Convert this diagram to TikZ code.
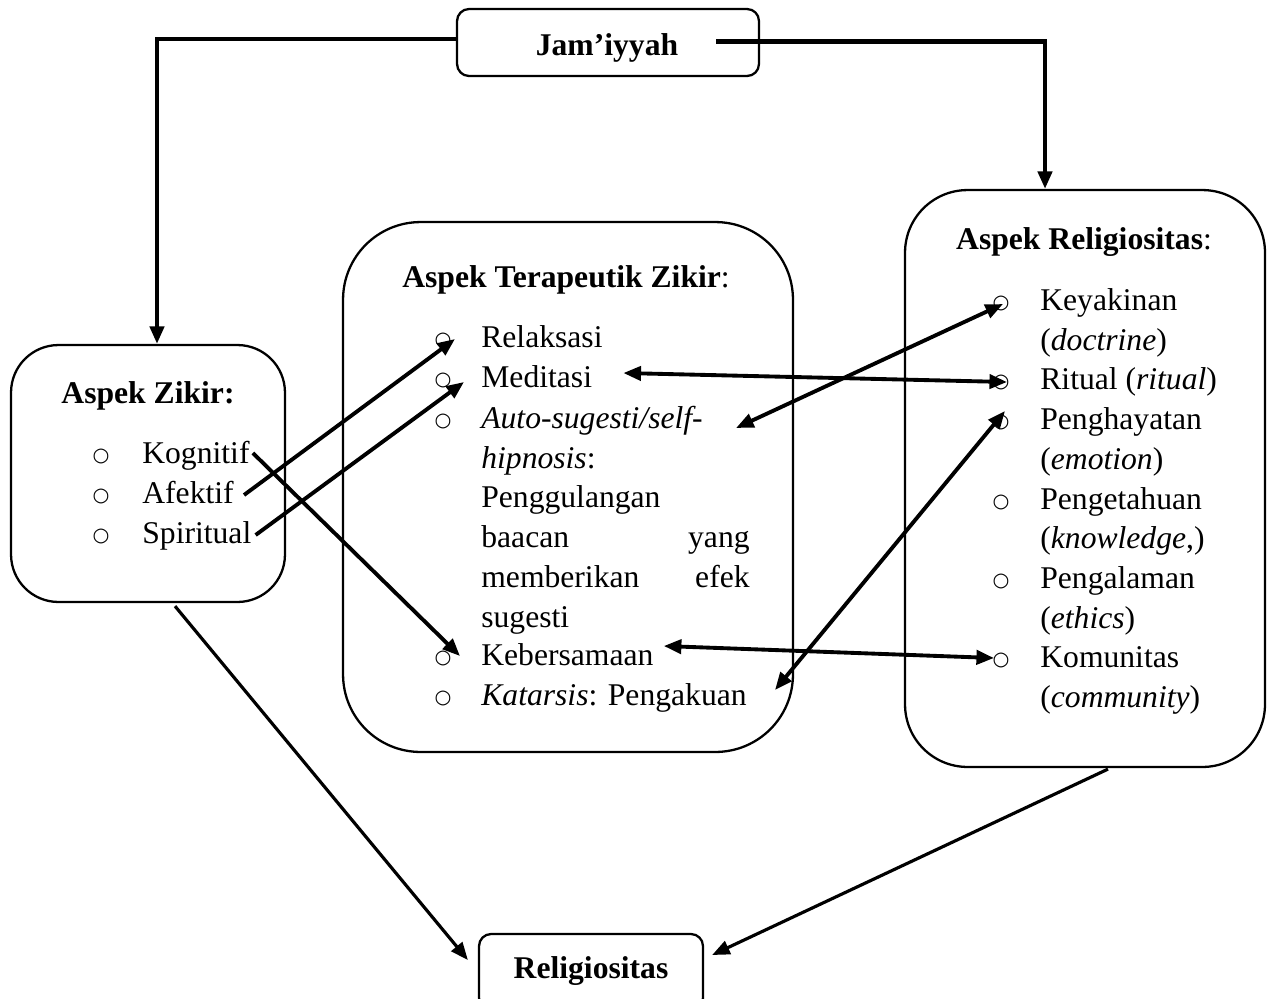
\documentclass[tikz,border=0pt]{standalone}
\usepackage{fontspec}
\setmainfont{Liberation Serif}
\newfontfamily\symfont{DejaVu Sans}
\usetikzlibrary{arrows.meta,calc}
\begin{document}
\begin{tikzpicture}[x=0.02cm,y=-0.02cm,
  font=\fontsize{18}{22}\selectfont,
  box/.style={draw,line width=1.3pt,inner sep=0pt},
  txt/.style={anchor=base west,inner sep=0pt},
  rtxt/.style={anchor=base east,inner sep=0pt},
  ttl/.style={anchor=base,inner sep=0pt,font=\fontsize{18}{22}\selectfont\bfseries},
  bul/.style={inner sep=0pt,font=\symfont\fontsize{11}{12}\selectfont},
  tip/.tip={Triangle[length=10pt,width=8pt]},
  conn/.style={line width=2.2pt,-tip},
  jconn/.style={line width=2.4pt,-tip},
  bconn/.style={line width=1.8pt,-tip},
  dconn/.style={line width=2.2pt,tip-tip},
]
\clip (0,0) rectangle (1273,998);
\fill[white] (0,0) rectangle (1273,998);

% boxes
\node[box,rounded corners=0.24cm,minimum width=6.04cm,minimum height=1.34cm] (jam) at (608,42.5) {};
\node[ttl] (jamt) at (607,55) {Jam’iyyah};
\node[box,rounded corners=0.95cm,minimum width=5.48cm,minimum height=5.14cm] (zikbox) at (148,473.5) {};
\node[box,rounded corners=1.55cm,minimum width=9cm,minimum height=10.6cm] (terbox) at (568,487) {};
\node[box,rounded corners=1.25cm,minimum width=7.2cm,minimum height=11.54cm] (relbox) at (1085,478.5) {};
\node[box,rounded corners=0.24cm,minimum width=4.48cm,minimum height=1.52cm] (relig) at (591,972) {};
\node[ttl] (religt) at (591,978) {Religiositas};

% Aspek Zikir
\node[ttl] (tz) at (148,403) {Aspek Zikir:};
\node[bul] (bkog) at (101,456) {○};
\node[txt] (kog) at (142,463) {Kognitif};
\node[bul] (bafe) at (101,496) {○};
\node[txt] (afe) at (142,503) {Afektif};
\node[bul] (bspi) at (101,536) {○};
\node[txt] (spi) at (142,543) {Spiritual};

% Aspek Terapeutik Zikir
\node[ttl] (tt) at (566,287) {Aspek Terapeutik Zikir\textmd{:}};
\node[bul] (brel) at (443,340) {○};
\node[txt] (rel) at (481,347) {Relaksasi};
\node[bul] (bmed) at (443,380) {○};
\node[txt] (med) at (481,387) {Meditasi};
\node[bul] (baut) at (443,421) {○};
\node[txt] (auto) at (481,428) {\textit{Auto-sugesti/self-}};
\node[txt] (hip) at (481,468) {\textit{hipnosis}:};
\node[txt] (pen) at (481,507) {Penggulangan};
\node[txt] (baa) at (481,547) {baacan};
\node[rtxt] (yan) at (750,547) {yang};
\node[txt] (mem) at (481,587) {memberikan};
\node[rtxt] (efe) at (750,587) {efek};
\node[txt] (sug) at (481,627) {sugesti};
\node[bul] (bkeb) at (443,658) {○};
\node[txt] (keb) at (481,665) {Kebersamaan};
\node[bul] (bkat) at (443,698) {○};
\node[txt] (kat) at (481,705) {\textit{Katarsis}: Pengakuan};

% Aspek Religiositas
\node[ttl] (tr) at (1084,249) {Aspek Religiositas\textmd{:}};
\node[bul] (bkey) at (1001,303) {○};
\node[txt] (key) at (1040,310) {Keyakinan};
\node[txt] (doc) at (1040,350) {(\textit{doctrine})};
\node[bul] (brit) at (1001,382) {○};
\node[txt] (rit) at (1040,389) {Ritual (\textit{ritual})};
\node[bul] (bpeng) at (1001,422) {○};
\node[txt] (peng) at (1040,429) {Penghayatan};
\node[txt] (emo) at (1040,469) {(\textit{emotion})};
\node[bul] (bpet) at (1001,502) {○};
\node[txt] (pet) at (1040,509) {Pengetahuan};
\node[txt] (kno) at (1040,548) {(\textit{knowledge},)};
\node[bul] (bpal) at (1001,581) {○};
\node[txt] (pal) at (1040,588) {Pengalaman};
\node[txt] (eth) at (1040,628) {(\textit{ethics})};
\node[bul] (bkom) at (1001,660) {○};
\node[txt] (kom) at (1040,667) {Komunitas};
\node[txt] (com) at (1040,707) {(\textit{community})};

% connectors
\draw[jconn] (jam.west |- 0,39) -| ($(zikbox.north)+(9,0)$);
\draw[jconn] ($(jam.center)+(108,-1)$) -| ($(relbox.north)+(-40,0)$);

\draw[conn] ($(kog.base east)+(3,-10)$) -- ($(bkeb)+(17,-2)$);
\draw[conn] ($(afe.base east)+(10,-8)$) -- ($(brel)+(12,-1)$);
\draw[conn] ($(spi.base east)+(4,-8)$) -- ($(bmed)+(21,2)$);

\draw[dconn] ($(med.base east)+(31,-14)$) -- ($(brit)+(6,0)$);
\draw[dconn] ($(auto.base east)+(33,0)$) -- ($(bkey)+(2,1)$);
\draw[dconn] ($(kat.base east)+(28,-15)$) -- ($(bpeng)+(4,-11)$);
\draw[dconn] ($(keb.base east)+(10,-19)$) -- ($(bkom)+(-7,-2)$);

\draw[bconn] ($(zikbox.south)+(27,3)$) -- ($(relig.west)+(-10,-12)$);
\draw[bconn] ($(relbox.south)+(23,1)$) -- ($(relig.east)+(8,-17)$);
\end{tikzpicture}
\end{document}
